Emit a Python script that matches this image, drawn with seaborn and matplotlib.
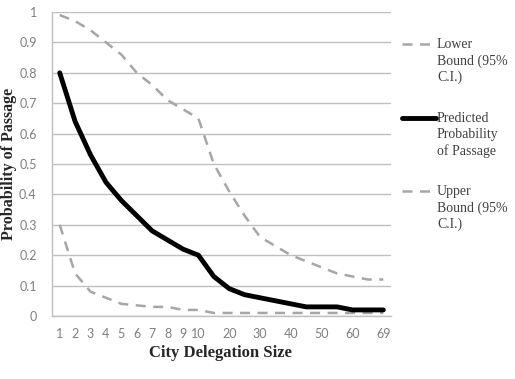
import pandas as pd
import matplotlib.pyplot as plt
import seaborn as sns
from matplotlib.lines import Line2D

# Data
delegation_size = ["1", "2", "3", "4", "5", "6", "7", "8", "9", "10",
                   "15", "20", "25", "30", "35", "40", "45", "50", "55", "60", "65", "69"]
tick_labels = ["1", "2", "3", "4", "5", "6", "7", "8", "9", "10",
               "", "20", "", "30", "", "40", "", "50", "", "60", "", "69"]
predicted = [0.80, 0.64, 0.53, 0.44, 0.38, 0.33, 0.28, 0.25, 0.22, 0.20,
             0.13, 0.09, 0.07, 0.06, 0.05, 0.04, 0.03, 0.03, 0.03, 0.02, 0.02, 0.02]
lower_bound = [0.99, 0.97, 0.94, 0.90, 0.86, 0.80, 0.76, 0.71, 0.68, 0.65,
               0.50, 0.41, 0.33, 0.26, 0.23, 0.20, 0.18, 0.16, 0.14, 0.13, 0.12, 0.12]
upper_bound = [0.30, 0.14, 0.08, 0.06, 0.04, 0.035, 0.03, 0.03, 0.02, 0.02,
               0.01, 0.01, 0.01, 0.01, 0.01, 0.01, 0.01, 0.01, 0.01, 0.01, 0.01, 0.01]
legend_labels = ["Lower\nBound (95%\nC.I.)", "Predicted\nProbability\nof Passage", "Upper\nBound (95%\nC.I.)"]

df = pd.DataFrame({
    "size": delegation_size,
    "pred": predicted,
    "lower": lower_bound,
    "upper": upper_bound,
})

sns.set_style("white")
serif = ["Liberation Serif", "DejaVu Serif"]
gray = "#a6a6a6"
dash = (0, (4, 3))
W, H = 515, 379

fig = plt.figure(figsize=(W / 100, H / 100), dpi=100)
ax = fig.add_axes([52 / W, 1 - 316 / H, 339 / W, 304 / H])

sns.lineplot(data=df, x="size", y="lower", ax=ax, sort=False, color=gray,
             linewidth=1.8, linestyle=dash)
sns.lineplot(data=df, x="size", y="upper", ax=ax, sort=False, color=gray,
             linewidth=1.8, linestyle=dash)
sns.lineplot(data=df, x="size", y="pred", ax=ax, sort=False, color="black",
             linewidth=3.5)

ax.set_ylim(0, 1)
ax.set_xlim(-0.5, len(delegation_size) - 0.5)
ax.set_yticks([i / 10 for i in range(11)])
ax.set_yticklabels(["0"] + [f"{i / 10:.1f}" for i in range(1, 10)] + ["1"])
ax.set_xticks(range(len(delegation_size)))
ax.set_xticklabels(tick_labels)
ax.set_xticks([i - 0.5 for i in range(len(delegation_size) + 1)], minor=True)

ax.yaxis.grid(True, color="#bfbfbf", linewidth=1)
ax.set_axisbelow(True)
for s in ["top", "right"]:
    ax.spines[s].set_visible(False)
for s in ["left", "bottom"]:
    ax.spines[s].set_color("#bfbfbf")
    ax.spines[s].set_linewidth(1)

ax.tick_params(axis="x", which="major", length=0, pad=9, labelsize=9, labelcolor="#7f7f7f")
ax.tick_params(axis="x", which="minor", length=4, color="#bfbfbf", direction="out")
ax.tick_params(axis="y", length=6, color="#bfbfbf", direction="out", labelsize=9,
               labelcolor="#7f7f7f", pad=5)
for lab in ax.get_xticklabels() + ax.get_yticklabels():
    lab.set_family(["Lato", "DejaVu Sans"])

ax.set_xlabel("City Delegation Size", family=serif, fontweight="bold", fontsize=12)
ax.set_ylabel("Probability of Passage", family=serif, fontweight="bold", fontsize=11.5)
ax.xaxis.set_label_coords((220 - 52) / 339, -(345 - 316) / 304)
ax.yaxis.set_label_coords(-(52 - 17) / 339, 0.5)

# Legend drawn by hand so the key lines sit on the first text line
styles = [(gray, 1.8, dash, 402, 430), ("black", 3.5, "-", 402, 436), (gray, 1.8, dash, 402, 430)]
tops = [44, 118, 191]
for (c, lw, ls, x0, x1), y, lab in zip(styles, tops, legend_labels):
    fig.add_artist(Line2D([x0 / W, x1 / W], [1 - y / H, 1 - y / H], transform=fig.transFigure,
                          color=c, linewidth=lw, linestyle=ls))
    fig.text(437 / W, 1 - (y - 6) / H, lab, family=serif, fontsize=10, color="#404040",
             va="top", ha="left", linespacing=1.3)

fig.savefig("out.png", dpi=100)
